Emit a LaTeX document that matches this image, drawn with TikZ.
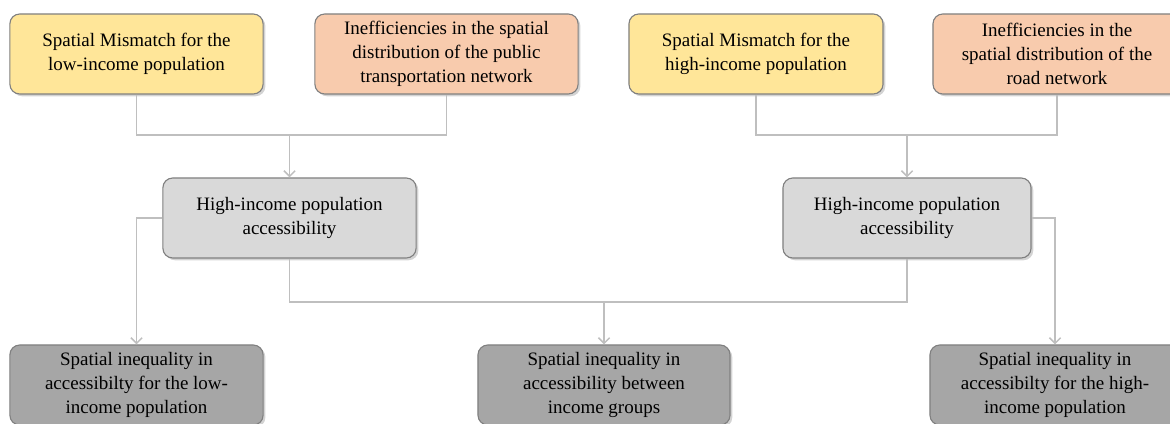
\documentclass[tikz,border=0pt]{standalone}
\usepackage{fontspec}
\setmainfont{Liberation Serif}
\usetikzlibrary{arrows.meta,shadows}

\definecolor{boxyellow}{HTML}{FFE699}
\definecolor{boxorange}{HTML}{F8CBAD}
\definecolor{boxlight}{HTML}{D9D9D9}
\definecolor{boxdark}{HTML}{A6A6A6}
\definecolor{boxline}{HTML}{808080}
\definecolor{linkgray}{HTML}{BFBFBF}

\tikzset{
	box/.style={draw=boxline, line width=0.8pt, rounded corners=7pt, align=center,
		minimum height=2cm, inner sep=2pt, font=\fontsize{13.5}{17}\selectfont,
		drop shadow={shadow xshift=1.6pt, shadow yshift=-1.6pt, opacity=0.35}},
	link/.style={draw=linkgray, line width=1.1pt, >={Straight Barb[length=4pt,width=8pt]}}
}

\begin{document}
\begin{tikzpicture}[x=0.025cm, y=-0.025cm]
	\useasboundingbox (0,0) rectangle (1170,423);

	\node[box, fill=boxyellow, minimum width=6.33cm] (misslow) at (136.5,54)
		{Spatial Mismatch for the\\low-income population};
	\node[box, fill=boxorange, minimum width=6.58cm] (ineffpub) at (446.5,54)
		{Inefficiencies in the spatial\\distribution of the public\\transportation network};
	\node[box, fill=boxyellow, minimum width=6.35cm] (misshigh) at (756,54)
		{Spatial Mismatch for the\\high-income population};
	\node[box, fill=boxorange, minimum width=6.2cm] (ineffroad) at (1057,54)
		{Inefficiencies in the\\spatial distribution of the\\road network};

	\node[box, fill=boxlight, minimum width=6.33cm] (acclow) at (289.5,218)
		{High-income population\\accessibility};
	\node[box, fill=boxlight, minimum width=6.2cm] (acchigh) at (907,218)
		{High-income population\\accessibility};

	\node[box, fill=boxdark, minimum width=6.33cm] (ineqlow) at (136.5,385)
		{Spatial inequality in\\accessibilty for the low-\\income population};
	\node[box, fill=boxdark, minimum width=6.3cm] (ineqgroups) at (604,385)
		{Spatial inequality in\\accessibility between\\income groups};
	\node[box, fill=boxdark, minimum width=6.25cm] (ineqhigh) at (1055,385)
		{Spatial inequality in\\accessibilty for the high-\\income population};

	\coordinate (joinlow) at (acclow.north |- 0,135);
	\coordinate (joinhigh) at (acchigh.north |- 0,135);
	\coordinate (joinmid) at (ineqgroups.north |- 0,302);

	\draw[link] (misslow.south) |- (joinlow) -| (ineffpub.south);
	\draw[link,->] (joinlow) -- (acclow.north);
	\draw[link] (misshigh.south) |- (joinhigh) -| (ineffroad.south);
	\draw[link,->] (joinhigh) -- (acchigh.north);

	\draw[link] (acclow.south) |- (joinmid) -| (acchigh.south);
	\draw[link,->] (joinmid) -- (ineqgroups.north);
	\draw[link,->] (acclow.west) -| (ineqlow.north);
	\draw[link,->] (acchigh.east) -| (ineqhigh.north);
\end{tikzpicture}
\end{document}
